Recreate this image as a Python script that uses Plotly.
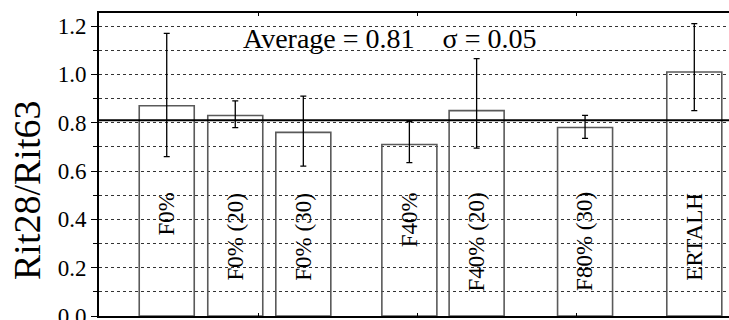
import plotly.graph_objects as go

categories = ["F0%", "F0% (20)", "F0% (30)", "F40%", "F40% (20)", "F80% (30)", "ERTALH"]
ratio = [0.87, 0.83, 0.76, 0.71, 0.85, 0.78, 1.01]
err_high = [1.17, 0.89, 0.91, 0.805, 1.065, 0.83, 1.21]
err_low = [0.66, 0.78, 0.62, 0.635, 0.695, 0.735, 0.85]
x_pos = [0.426, 0.857, 1.285, 1.952, 2.375, 3.057, 3.744]
average = 0.81
sigma = 0.05
y_ticks = [0.0, 0.2, 0.4, 0.6, 0.8, 1.0, 1.2]
y_title = "Rit28/Rit63"

FONT = "Liberation Serif"

plus = [h - v for h, v in zip(err_high, ratio)]
minus = [v - l for l, v in zip(err_low, ratio)]

fig = go.Figure()
fig.add_trace(go.Bar(
    x=x_pos, y=ratio, width=0.346,
    marker=dict(color="rgba(0,0,0,0)", line=dict(color="#5a5a5a", width=1.6)),
    error_y=dict(type="data", symmetric=False, array=plus, arrayminus=minus,
                 color="black", thickness=1.3, width=3),
    showlegend=False,
))

fig.add_shape(type="line", xref="paper", x0=0, x1=1, yref="y", y0=average, y1=average,
              line=dict(color="black", width=2))

for xp, lab in zip(x_pos, categories):
    fig.add_annotation(x=xp, y=0.52, text=lab, textangle=-90, showarrow=False,
                       xanchor="center", yanchor="top",
                       font=dict(family=FONT, size=23, color="black"))

fig.add_annotation(x=1.83, y=1.15, xref="x", yref="y",
                   text=f"Average = {average:.2f}&nbsp;&nbsp;&nbsp;&nbsp;σ = {sigma:.2f}",
                   showarrow=False, xanchor="center", yanchor="middle",
                   font=dict(family=FONT, size=28, color="black"))

# y-axis title (placed lower than centre, as in the reference)
fig.add_annotation(x=-72 / 630, y=(316 - 191) / 303, xref="paper", yref="paper",
                   text=y_title, textangle=-90, showarrow=False,
                   xanchor="center", yanchor="middle",
                   font=dict(family=FONT, size=38, color="black"))

fig.update_layout(
    width=729, height=320,
    margin=dict(l=99, r=0, t=13, b=4, autoexpand=False),
    paper_bgcolor="white", plot_bgcolor="white",
    font=dict(family=FONT, color="black"),
)
fig.update_xaxes(
    range=[0, 630 / 159], dtick=1, tick0=0, showticklabels=False,
    ticks="inside", ticklen=3, tickcolor="black",
    showline=True, linecolor="black", linewidth=2, mirror="ticks",
    showgrid=False, zeroline=False, automargin=False,
)
fig.update_yaxes(
    range=[0, 1.254], tickvals=y_ticks, ticktext=[f"{v:.1f}" for v in y_ticks],
    ticks="outside", ticklen=6, tickwidth=1.3, tickcolor="black",
    tickfont=dict(family=FONT, size=23, color="black"),
    ticklabeloverflow="allow", automargin=False,
    minor=dict(dtick=0.1, tick0=0, ticks="outside", ticklen=4, tickcolor="black",
               showgrid=True, gridcolor="#333", griddash="dot", gridwidth=1),
    showgrid=True, gridcolor="#333", griddash="dot", gridwidth=1,
    showline=True, linecolor="black", linewidth=2, mirror=False,
    zeroline=False,
)

fig.write_html("out.html", config={"displayModeBar": False},
               post_script="document.body.style.margin='0';")
